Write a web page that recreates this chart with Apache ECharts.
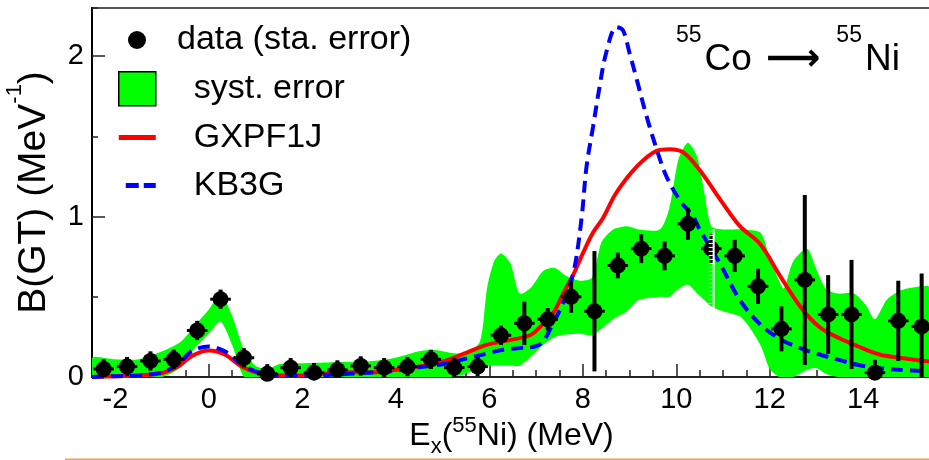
<!DOCTYPE html>
<html>
<head>
<meta charset="utf-8">
<script src="https://cdn.jsdelivr.net/npm/echarts@6/dist/echarts.min.js"></script>
<style>
  html, body { margin: 0; padding: 0; background: #fff; }
  #chart { width: 929px; height: 460px; }
</style>
</head>
<body>
<div id="chart"></div>
<script>
const FONT = "Liberation Sans";

// data (sta. error)
const pointX = [-2.25, -1.75, -1.25, -0.75, -0.25, 0.25, 0.75, 1.25, 1.75, 2.25, 2.75, 3.25,
  3.75, 4.25, 4.75, 5.25, 5.75, 6.25, 6.75, 7.25, 7.75, 8.25, 8.75, 9.25, 9.75, 10.25,
  10.75, 11.25, 11.75, 12.25, 12.75, 13.25, 13.75, 14.25, 14.75, 15.25];
const pointY = [0.05, 0.065, 0.10, 0.11, 0.29, 0.485, 0.12, 0.02, 0.058, 0.027, 0.044, 0.069,
  0.058, 0.065, 0.11, 0.058, 0.065, 0.26, 0.335, 0.36, 0.50, 0.41, 0.695, 0.80, 0.755, 0.955,
  0.80, 0.755, 0.565, 0.30, 0.605, 0.39, 0.39, 0.027, 0.35, 0.315];
const pointErr = [0.06, 0.06, 0.06, 0.06, 0.06, 0.06, 0.06, 0.06, 0.06, 0.06, 0.06, 0.06,
  0.06, 0.06, 0.06, 0.06, 0.06, 0.06, 0.135, 0.07, 0.10, 0.375, 0.08, 0.09, 0.09, 0.10,
  0.09, 0.10, 0.11, 0.14, 0.53, 0.245, 0.34, 0.08, 0.25, 0.33];

// syst. error band
const bandX = [-2.5, -2.0, -1.5, -1.0, -0.6, -0.3, 0.0, 0.25, 0.5, 0.75,
  1.0, 1.25, 1.5, 2.0, 2.5, 3.0, 3.5, 4.0, 4.5, 4.8,
  5.2, 5.5, 5.8, 5.95, 6.1, 6.25, 6.45, 6.65, 6.9, 7.15,
  7.4, 7.65, 7.95, 8.2, 8.4, 8.65, 8.95, 9.2, 9.65, 9.85,
  10.05, 10.25, 10.45, 10.6, 10.75, 11.0, 11.4, 11.8, 12.0, 12.2,
  12.3, 12.5, 12.8, 13.0, 13.2, 13.45, 13.8, 14.05, 14.25, 14.5,
  14.8, 15.1, 15.45];
const bandHigh = [0.12, 0.11, 0.11, 0.16, 0.22, 0.32, 0.42, 0.52, 0.38, 0.17,
  0.07, 0.05, 0.08, 0.085, 0.09, 0.095, 0.10, 0.12, 0.16, 0.17,
  0.15, 0.15, 0.22, 0.55, 0.72, 0.77, 0.71, 0.52, 0.56, 0.66,
  0.68, 0.63, 0.60, 0.62, 0.84, 0.92, 0.94, 0.92, 0.92, 1.05,
  1.36, 1.46, 1.37, 1.15, 0.94, 0.92, 0.92, 0.90, 0.74, 0.60,
  0.55, 0.72, 0.80, 0.67, 0.55, 0.52, 0.52, 0.45, 0.36, 0.48,
  0.54, 0.56, 0.555];
const bandLow = [0, 0, 0, 0, 0.06, 0.18, 0.27, 0.345, 0.20, 0,
  0, 0, 0, 0, 0, 0, 0, 0, 0, 0,
  0, 0.02, 0.06, 0.07, 0.07, 0.07, 0.07, 0.07, 0.13, 0.20,
  0.25, 0.265, 0.27, 0.26, 0.30, 0.36, 0.41, 0.48, 0.50, 0.50,
  0.55, 0.575, 0.52, 0.48, 0.44, 0.41, 0.37, 0.20, 0.05, 0,
  0, 0, 0.045, 0.055, 0.02, 0, 0, 0, 0, 0,
  0, 0, 0];

// GXPF1J
const gxpfX = [-2.5, -2.0, -1.5, -1.0, -0.66, -0.37, 0.0, 0.34, 0.7, 1.05, 1.5, 2.0, 3.0,
  3.5, 4.0, 4.5, 5.0, 5.5, 5.94, 6.44, 6.87, 7.08, 7.37, 7.58, 7.8, 8.0, 8.22, 8.43, 8.72,
  9.15, 9.58, 9.86, 10.15, 10.5, 10.93, 11.36, 11.79, 12.2, 12.65, 13.07, 13.5, 13.9,
  14.35, 14.78, 15.45];
const gxpfY = [0.0, 0.005, 0.01, 0.025, 0.065, 0.13, 0.165, 0.14, 0.065, 0.025, 0.01, 0.01,
  0.03, 0.03, 0.045, 0.065, 0.095, 0.15, 0.20, 0.23, 0.26, 0.31, 0.40, 0.52, 0.64, 0.77,
  0.90, 0.99, 1.15, 1.31, 1.41, 1.42, 1.40, 1.29, 1.11, 0.94, 0.83, 0.64, 0.44, 0.31,
  0.24, 0.19, 0.14, 0.12, 0.095];

// KB3G
const kb3gX = [-2.5, -2.0, -1.5, -1.0, -0.66, -0.37, 0.0, 0.34, 0.7, 1.05, 1.5, 2.0, 3.0,
  4.0, 4.5, 5.0, 5.58, 6.0, 6.3, 6.65, 6.97, 7.15, 7.37, 7.58, 7.8, 7.97, 8.08, 8.22, 8.36,
  8.5, 8.72, 8.86, 9.0, 9.15, 9.36, 9.58, 9.79, 10.08, 10.36, 10.5, 10.93, 11.36, 11.79,
  12.2, 12.65, 13.07, 13.5, 13.9, 14.35, 14.78, 15.45];
const kb3gY = [0.0, 0.005, 0.01, 0.03, 0.08, 0.16, 0.19, 0.16, 0.08, 0.03, 0.01, 0.01, 0.02,
  0.04, 0.06, 0.08, 0.12, 0.15, 0.17, 0.18, 0.19, 0.22, 0.34, 0.46, 0.65, 0.98, 1.31, 1.56,
  1.81, 2.02, 2.18, 2.16, 2.02, 1.86, 1.63, 1.42, 1.25, 1.10, 1.0, 0.92, 0.71, 0.48, 0.33,
  0.24, 0.18, 0.14, 0.105, 0.075, 0.055, 0.045, 0.035];

// white ladder near 10.8 MeV
const ladder = [[10.8, 0.41, 0.92]];

const NAME_DATA = "data (sta. error)";
const NAME_SYST = "syst. error";
const NAME_GX = "GXPF1J";
const NAME_KB = "KB3G";

const chart = echarts.init(document.getElementById("chart"));

function 误差棒(params, api) {
  const x = api.value(0), y = api.value(1), e = api.value(2);
  const top = api.coord([x, y + e]);
  const bot = api.coord([x, Math.max(y - e, 0)]);
  const l = api.coord([x - 0.22, y]);
  const r = api.coord([x + 0.22, y]);
  return {
    type: "group",
    children: [
      { type: "line", shape: { x1: top[0], y1: top[1], x2: bot[0], y2: bot[1] }, style: { stroke: "#000", lineWidth: 4 } },
      { type: "line", shape: { x1: l[0], y1: l[1], x2: r[0], y2: r[1] }, style: { stroke: "#000", lineWidth: 3 } }
    ]
  };
}

function 误差带(params, api) {
  if (params.dataIndex !== 0) return null;
  const up = bandX.map((x, i) => api.coord([x, bandHigh[i]]));
  const lo = bandX.map((x, i) => api.coord([x, bandLow[i]])).reverse();
  return {
    type: "polygon",
    shape: { points: up.concat(lo), smooth: 0.25 },
    style: { fill: "#00ff00" }
  };
}

function 白梯(params, api) {
  const x = api.value(0);
  const a = api.coord([x, api.value(2)]);
  const b = api.coord([x, api.value(1)]);
  const kids = [{ type: "line", shape: { x1: a[0], y1: a[1], x2: b[0], y2: b[1] }, style: { stroke: "#fff", lineWidth: 2 } }];
  for (let yy = a[1] + 2; yy < b[1]; yy += 4) {
    kids.push({ type: "line", shape: { x1: a[0] - 5, y1: yy, x2: a[0], y2: yy }, style: { stroke: "#fff", lineWidth: 1 } });
  }
  return { type: "group", children: kids };
}

const legendText = { fontFamily: FONT, fontSize: 34, color: "#000", lineHeight: 34 };

const option = {
  animation: false,
  backgroundColor: "#fff",
  textStyle: { fontFamily: FONT },
  grid: [
    { left: 92, right: -2, top: 8, bottom: 83, show: true, borderColor: "#555", borderWidth: 2, outerBoundsMode: "none" },
    { left: 115.4, right: -2, top: 8, bottom: 83, show: false, outerBoundsMode: "none" }
  ],
  legend: [
    {
      data: [{ name: NAME_DATA, icon: "circle" }],
      left: 123, top: 18,
      itemWidth: 18, itemHeight: 18,
      selectedMode: false,
      textStyle: Object.assign({}, legendText, { padding: [0, 0, 0, 26] })
    },
    {
      data: [
        { name: NAME_SYST, icon: "rect", itemStyle: { color: "#00ff00", borderColor: "#000", borderWidth: 1.5 } },
        { name: NAME_GX, icon: "path://M0,0h37v5h-37z", itemStyle: { color: "#ff0000", borderWidth: 0 } },
        { name: NAME_KB, icon: "path://M0,2h0.01v0.01h-0.01z M7,0h13v5h-13z M25,0h12v5h-12z", itemStyle: { color: "#0000ff", borderWidth: 0 } }
      ],
      orient: "vertical",
      left: 113, top: 66,
      itemWidth: 37, itemHeight: 34, itemGap: 14,
      selectedMode: false,
      textStyle: Object.assign({}, legendText, { padding: [0, 0, 0, 33] })
    }
  ],
  xAxis: [
    {
      type: "value", gridIndex: 0, min: -2.5, max: 15.45, interval: 0.5,
      axisLine: { show: true, onZero: false, lineStyle: { color: "#222", width: 2 } },
      axisTick: { show: true, inside: true, length: 7, lineStyle: { color: "#222", width: 1.5 } },
      axisLabel: { show: false },
      splitLine: { show: false },
      name: "{t|E}{sub|x}{t|(}{sup|55}{t|Ni) (MeV)}",
      nameLocation: "middle", nameGap: 38,
      nameTextStyle: {
        fontFamily: FONT, color: "#000", fontSize: 32,
        rich: {
          t: { fontFamily: FONT, fontSize: 32, lineHeight: 43, color: "#000" },
          sup: { fontFamily: FONT, fontSize: 22, lineHeight: 22, verticalAlign: "top", color: "#000" },
          sub: { fontFamily: FONT, fontSize: 22, lineHeight: 22, verticalAlign: "bottom", color: "#000" }
        }
      }
    },
    {
      type: "value", gridIndex: 1, min: -2, max: 15.45, interval: 2,
      axisLine: { show: false, onZero: false },
      axisTick: { show: true, inside: true, length: 13, lineStyle: { color: "#222", width: 1.5 } },
      axisLabel: {
        show: true, margin: 8, fontFamily: FONT, fontSize: 29, lineHeight: 29, color: "#000",
        showMaxLabel: false,
        formatter: (v) => (Number.isInteger(v) ? String(v) : "")
      },
      splitLine: { show: false }
    }
  ],
  yAxis: [
    {
      type: "value", gridIndex: 0, min: 0, max: 2.3, interval: 0.5,
      axisLine: { show: true, onZero: false, lineStyle: { color: "#000", width: 2 } },
      axisTick: { show: true, inside: true, length: 6, lineStyle: { color: "#222", width: 1.5 } },
      axisLabel: { show: false },
      splitLine: { show: false },
      name: "{t|B(GT) (MeV}{sup|-1}{t|)}",
      nameLocation: "middle", nameGap: 28, nameRotate: 90,
      nameTextStyle: {
        fontFamily: FONT, color: "#000", fontSize: 39,
        rich: {
          t: { fontFamily: FONT, fontSize: 39, lineHeight: 60, color: "#000" },
          sup: { fontFamily: FONT, fontSize: 22, lineHeight: 22, verticalAlign: "top", color: "#000" }
        }
      }
    },
    {
      type: "value", gridIndex: 0, position: "left", min: 0, max: 2.3, interval: 1,
      axisLine: { show: false, onZero: false },
      axisTick: { show: true, inside: true, length: 13, lineStyle: { color: "#222", width: 1.5 } },
      axisLabel: {
        show: true, margin: 8, fontFamily: FONT, fontSize: 29, color: "#000",
        showMaxLabel: false,
        formatter: (v) => (Number.isInteger(v) ? String(v) : "")
      },
      splitLine: { show: false }
    },
    {
      type: "value", gridIndex: 1, min: 0, max: 2.3, show: false,
      axisLine: { onZero: false }
    }
  ],
  graphic: [
    {
      type: "text", left: 676, top: 24, silent: true,
      style: {
        text: "{s|55}{b|Co}{a|⟶}{s|55}{b|Ni}",
        rich: {
          s: { fontFamily: FONT, fontSize: 23, lineHeight: 23, verticalAlign: "top", fill: "#000" },
          b: { fontFamily: FONT, fontSize: 37, lineHeight: 72, fill: "#000", padding: [0, 0, 0, 3] },
          a: { fontFamily: "DejaVu Sans", fontSize: 38, fontWeight: "bold", lineHeight: 72, fill: "#000", padding: [0, 16, 0, 14] }
        }
      }
    },
    {
      type: "line", silent: true,
      shape: { x1: 65, y1: 459.5, x2: 929, y2: 459.5 },
      style: { stroke: "#f0a050", lineWidth: 2 }
    }
  ],
  series: [
    {
      name: NAME_SYST, type: "custom", xAxisIndex: 0, yAxisIndex: 0, z: 1, clip: true,
      itemStyle: { color: "#00ff00" },
      renderItem: 误差带,
      data: bandX.map((x, i) => [x, bandLow[i], bandHigh[i]])
    },
    {
      name: NAME_GX, type: "line", xAxisIndex: 0, yAxisIndex: 0, z: 2,
      symbol: "none", smooth: 0.35, clip: true,
      itemStyle: { color: "#ff0000" },
      lineStyle: { color: "#ff0000", width: 4 },
      data: gxpfX.map((x, i) => [x, gxpfY[i]])
    },
    {
      name: NAME_KB, type: "line", xAxisIndex: 0, yAxisIndex: 0, z: 3,
      symbol: "none", smooth: 0.35, clip: true,
      itemStyle: { color: "#0000ff" },
      lineStyle: { color: "#0000ff", width: 4, type: [12, 7] },
      data: kb3gX.map((x, i) => [x, kb3gY[i]])
    },
    {
      type: "custom", xAxisIndex: 0, yAxisIndex: 0, z: 4, clip: true,
      renderItem: 误差棒,
      data: pointX.map((x, i) => [x, pointY[i], pointErr[i]])
    },
    {
      name: NAME_DATA, type: "scatter", xAxisIndex: 0, yAxisIndex: 0, z: 5,
      symbol: "circle", symbolSize: 16, clip: true,
      itemStyle: { color: "#000", opacity: 1 },
      data: pointX.map((x, i) => [x, pointY[i]])
    },
    {
      type: "custom", xAxisIndex: 0, yAxisIndex: 0, z: 6, clip: true,
      renderItem: 白梯,
      data: ladder
    }
  ]
};

chart.setOption(option);
</script>
</body>
</html>
